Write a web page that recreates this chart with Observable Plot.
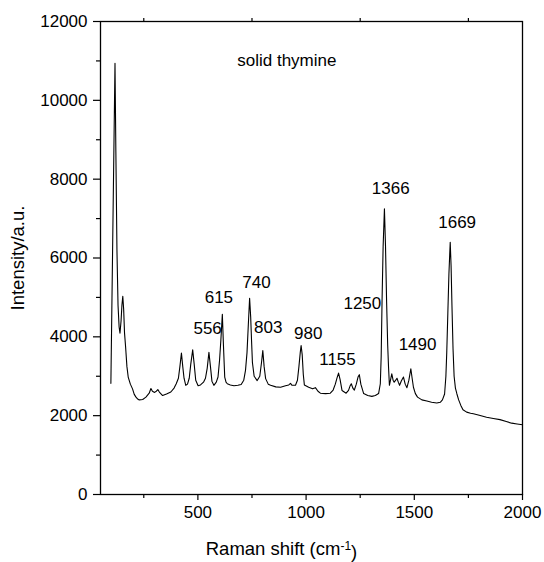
<!DOCTYPE html>
<html>
<head>
<meta charset="utf-8">
<script src="https://cdn.jsdelivr.net/npm/d3@7"></script>
<script src="https://cdn.jsdelivr.net/npm/@observablehq/plot@0.6"></script>
<style>
  html, body { margin: 0; padding: 0; background: #fff; }
</style>
</head>
<body>
<div id="chart"></div>
<script>
// Raman spectrum of solid thymine
const wavenumber = [98,117,121,126,131,136,140,145,149,153,157,161,166,172,178,188,198,206,214,222,229,245,260,275,283,290,300,308,315,322,337,355,375,390,400,410,417,424,430,436,444,452,460,467,476,483,490,501,512,526,535,543,551,558,565,574,585,593,600,606,613,618,624,630,636,650,667,685,700,712,720,727,733,739,744,748,752,760,774,786,794,800,806,813,825,836,860,882,905,920,928,935,951,960,967,973,977,982,987,992,1012,1030,1043,1055,1066,1090,1112,1125,1135,1143,1150,1157,1166,1185,1196,1203,1209,1216,1223,1232,1240,1246,1253,1266,1285,1304,1320,1335,1343,1347,1351,1356,1362,1367,1372,1377,1381,1385,1390,1396,1402,1407,1414,1420,1426,1432,1440,1450,1458,1466,1475,1484,1490,1496,1505,1515,1535,1558,1580,1604,1620,1630,1640,1646,1650,1655,1660,1666,1670,1674,1679,1684,1690,1697,1705,1715,1725,1742,1760,1773,1800,1834,1865,1896,1925,1950,1975,2000];
const intensity = [2820,10940,8700,6200,4800,4250,4090,4400,4800,5030,4700,4100,3740,3250,2980,2800,2680,2540,2470,2420,2400,2410,2470,2570,2690,2620,2590,2620,2660,2600,2510,2550,2600,2700,2810,2950,3250,3590,3250,2950,2770,2800,2950,3300,3670,3300,2900,2760,2780,2850,2950,3200,3610,3250,2870,2770,2850,2980,3400,3900,4570,3800,2980,2850,2810,2780,2760,2770,2790,2900,3150,3600,4300,4980,4500,3900,3350,3000,2890,3000,3350,3650,3250,2940,2800,2770,2730,2720,2760,2780,2820,2770,2770,2900,3250,3600,3780,3550,3050,2780,2720,2680,2710,2620,2570,2560,2570,2650,2800,2960,3080,2920,2640,2570,2640,2750,2810,2700,2650,2800,2980,3040,2800,2560,2510,2490,2510,2560,2810,3500,4900,6300,7250,6300,4900,3800,3230,2770,2900,3060,2900,2850,2900,2950,2850,2770,2880,2980,2800,2710,2900,3190,2950,2720,2560,2470,2400,2370,2340,2320,2340,2400,2550,3000,3600,4600,5600,6400,5800,4800,3700,3000,2700,2550,2400,2260,2150,2090,2060,2050,2010,1960,1930,1900,1850,1810,1790,1770];

// peak annotations
const peakLabels = ["556","615","740","803","980","1155","1250","1366","1490","1669"];
const peakLabelX = [545,597,771,825,1010,1145,1260,1391,1515,1698];
const peakLabelY = [4204,4990,5386,4244,4092,3417,4838,7756,3798,6908];

const titleText = "solid thymine";
const titleX = 911;
const titleY = 11011;

const xMajorTicks = [500,1000,1500,2000];
const xMinorTicks = [250,750,1250,1750];
const yMajorTicks = [0,2000,4000,6000,8000,10000,12000];
const yMinorTicks = [1000,3000,5000,7000,9000,11000];

const xLabel = "Raman shift (cm-1)";
const yLabel = "Intensity/a.u.";

const spectrum = wavenumber.map((x, i) => ({x, y: intensity[i]}));
const labels = peakLabels.map((t, i) => ({t, x: peakLabelX[i], y: peakLabelY[i]}));

const FONT = "'Liberation Sans', Arial, Helvetica, sans-serif";
const FS = 17;
const LFS = 18.5;

const plot = Plot.plot({
  width: 544,
  height: 562,
  marginLeft: 100,
  marginRight: 22,
  marginTop: 21,
  marginBottom: 68,
  style: {fontFamily: FONT, fontSize: FS + "px", color: "black", background: "white"},
  x: {domain: [50, 2000]},
  y: {domain: [0, 12000]},
  marks: [
    Plot.line(spectrum, {x: "x", y: "y", stroke: "black", strokeWidth: 1.1}),
    Plot.frame({stroke: "black", strokeWidth: 1.3}),
    Plot.axisY({ticks: yMajorTicks, tickSize: 7, tickPadding: 6, fontSize: FS, label: null, strokeWidth: 1.2, tickFormat: d => String(d)}),
    Plot.axisY({ticks: yMinorTicks, tickSize: 4, label: null, strokeWidth: 1.2, tickFormat: () => ""}),
    Plot.axisX({ticks: xMajorTicks, tickSize: 6, tickPadding: 5, fontSize: FS, label: null, strokeWidth: 1.2, tickFormat: d => String(d)}),
    Plot.axisX({ticks: xMinorTicks, tickSize: 4, label: null, strokeWidth: 1.2, tickFormat: () => ""}),
    Plot.axisX({anchor: "top", ticks: xMinorTicks, tickSize: 4, label: null, strokeWidth: 1.2, tickFormat: () => ""}),
    Plot.text(labels, {x: "x", y: "y", text: "t", fontSize: FS, fill: "black"}),
    Plot.text([titleText], {x: () => titleX, y: () => titleY, text: d => d, fontSize: FS, fill: "black"}),
    Plot.text([xLabel], {frameAnchor: "bottom", dx: -30, dy: 55, textAnchor: "middle", lineAnchor: "middle", text: d => d, fontSize: LFS, fill: "black"}),
    Plot.text([yLabel], {frameAnchor: "left", dx: -82, rotate: -90, textAnchor: "middle", lineAnchor: "middle", text: d => d, fontSize: LFS, fill: "black"})
  ]
});

document.getElementById("chart").appendChild(plot);

// superscript in the x-axis label
d3.select(plot).selectAll("text").filter(function() { return this.textContent === xLabel; })
  .each(function() {
    const t = d3.select(this);
    t.text(null);
    t.append("tspan").text("Raman shift (cm");
    t.append("tspan").attr("dy", "-0.45em").attr("font-size", "12px").text("-1");
    t.append("tspan").attr("dy", "0.45em").text(")");
  });
</script>
</body>
</html>
